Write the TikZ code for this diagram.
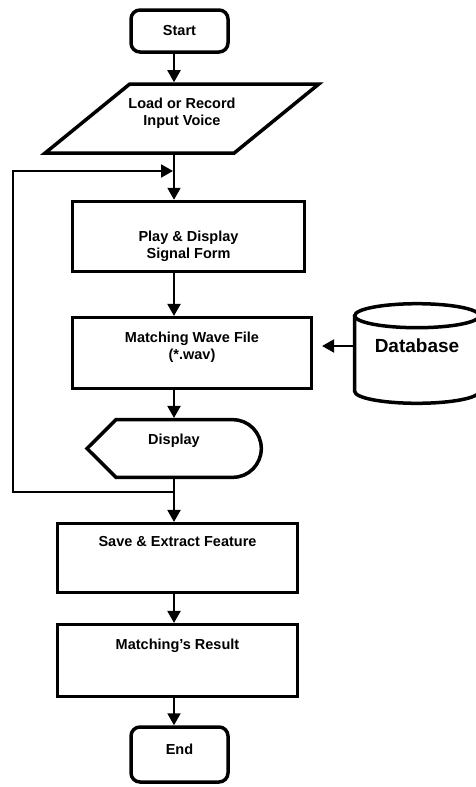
\documentclass[tikz,border=0pt]{standalone}
\usepackage{fontspec}
\setmainfont{Liberation Sans}
\usetikzlibrary{shapes.geometric, arrows.meta}

\tikzstyle{shapeLine} = [draw=black, line width=3.5pt]
\tikzstyle{baseNode} = [shapeLine, font=\bfseries\fontsize{14.5}{17}\selectfont, text centered]
\tikzstyle{termNode} = [baseNode, rectangle, rounded corners=9pt, minimum width=97pt, minimum height=42pt]
\tikzstyle{recNode} = [baseNode, rectangle, minimum height=70pt]
\tikzstyle{ioNode} = [baseNode, trapezium, trapezium left angle=51, trapezium right angle=129, trapezium stretches=true, minimum width=274pt, minimum height=69pt]
\tikzstyle{dispNode} = [rectangle, minimum width=174.3pt, minimum height=57.6pt, inner sep=0pt, outer sep=1.75pt]
\tikzstyle{dbNode} = [rectangle, minimum width=124.6pt, minimum height=80pt, outer sep=1.75pt, font=\bfseries\fontsize{19}{22}\selectfont]
\tikzstyle{inText} = [anchor=north, inner sep=0pt, align=center, font=\bfseries\fontsize{14.5}{17}\selectfont]
\tikzstyle{arrow} = [line width=2pt, -{Triangle[width=13pt,length=12pt]}]

\begin{document}
\begin{tikzpicture}[x=1pt, y=1pt]
    \useasboundingbox (0,0) rectangle (476,-787);
    \coordinate (spine) at (174,0);
    \coordinate (loopX) at (13,0);
    \coordinate (fbIn) at (174,-171);
    \coordinate (fbOut) at (174,-492);

    \node (start) [termNode] at (179.5,-31) {Start};
    \node (load) [ioNode, label={[inText, yshift=-15.6pt]north:Load or Record\\Input Voice}] at (182,-118.5) {};
    \node (play) [recNode, minimum width=231.6pt, label={[inText, yshift=-30.6pt]north:Play \& Display\\Signal Form}] at (188.5,-236.5) {};
    \node (match) [recNode, minimum width=238.6pt, minimum height=70.6pt, label={[inText, yshift=-15.6pt]north:Matching Wave File\\(*.wav)}] at (192,-353) {};
    \node (db) [dbNode] at (417,-346) {Database};
    \node (disp) [dispNode, label={[inText, yshift=-15.6pt]north:Display}] at (174,-448.5) {};
    \node (save) [recNode, minimum width=239.6pt, minimum height=68.6pt, label={[inText, yshift=-14.6pt]north:Save \& Extract Feature}] at (177.5,-558) {};
    \node (result) [recNode, minimum width=239.6pt, minimum height=71.6pt, label={[inText, yshift=-15.6pt]north:Matching’s Result}] at (177.5,-660.5) {};
    \node (end) [termNode, minimum height=55pt, label={[inText, yshift=-18.6pt]north:End}] at (179.5,-754.5) {};

    % display and database outlines
    \draw [shapeLine] (87,-448.5) -- (116,-419.7) -- (233,-419.7)
        arc[start angle=90, end angle=-90, x radius=28.3, y radius=28.8]
        -- (116,-477.3) -- cycle;
    \draw [shapeLine] (417,-315.7) ellipse [x radius=62.3, y radius=12];
    \draw [shapeLine] (354.7,-315.7) -- (354.7,-391.3)
        arc[start angle=180, end angle=360, x radius=62.3, y radius=12] -- (479.3,-315.7);

    \draw [arrow] (start.south -| spine) -- (load.north -| spine);
    \draw [arrow] (load.south -| spine) -- (play.north -| spine);
    \draw [arrow] (play.south -| spine) -- (match.north -| spine);
    \draw [arrow, shorten >=9pt] (db.west) -- (match.east |- db.west);
    \draw [arrow] (match.south -| spine) -- (disp.north -| spine);
    \draw [arrow] (disp.south -| spine) -- (save.north -| spine);
    \draw [arrow, shorten >=1pt] (fbOut) -- (fbOut -| loopX) |- (fbIn);
    \draw [arrow] (save.south -| spine) -- (result.north -| spine);
    \draw [arrow] (result.south -| spine) -- (end.north -| spine);
\end{tikzpicture}
\end{document}
